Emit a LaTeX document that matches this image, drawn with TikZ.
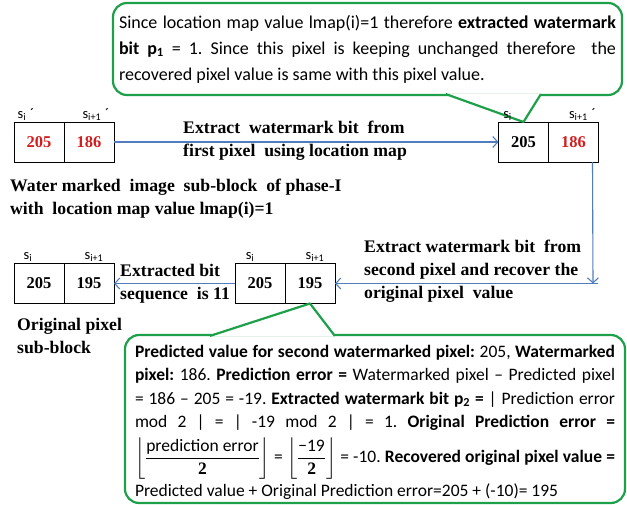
\documentclass[tikz,border=0pt]{standalone}
\usepackage{amsmath}
\usepackage{fontspec}
\setmainfont{Liberation Serif}
\newfontfamily\calibri{Carlito}
\frenchspacing
\usetikzlibrary{arrows.meta,positioning,calc}
\definecolor{bleu}{HTML}{4F7DBD}
\definecolor{vert}{HTML}{1EA04A}
\definecolor{rouge}{HTML}{D11F1F}
\tikzset{
  cellule/.style={draw,line width=0.9pt,minimum width=50pt,minimum height=40pt,
                  outer sep=0pt,inner sep=0pt,font=\fontsize{16.5}{18}\selectfont\bfseries},
  indice/.style={font=\calibri\fontsize{14.5}{16}\selectfont,inner sep=0pt},
  legende/.style={font=\fontsize{17.7}{23}\selectfont\bfseries,align=left,inner sep=0pt},
  fleche/.style={-{Straight Barb[length=5pt,width=11pt]},line width=1.1pt,color=bleu},
  bulle/.style={draw=vert,line width=2.2pt,rounded corners=14pt,align=justify,
                font=\calibri\fontsize{18}{26}\selectfont},
  pointe/.style={draw=vert,line width=2.2pt,line join=round},
}

\begin{document}
\begin{tikzpicture}[x=1pt,y=-1pt]
  \useasboundingbox (0,0) rectangle (627,504);
  \node[cellule,text=rouge] (a1) at (39,142) {205};
  \node[cellule,text=rouge,right=0pt of a1] (a2) {186};
  \node[cellule] (b1) at (523.5,142) {205};
  \node[cellule,text=rouge,right=0pt of b1] (b2) {186};
  \node[cellule] (c1) at (260,283.5) {205};
  \node[cellule,right=0pt of c1] (c2) {195};
  \node[cellule] (d1) at (39,283.5) {205};
  \node[cellule,right=0pt of d1] (d2) {195};

  \node[bulle,text width=497pt,minimum height=92pt,inner xsep=6pt] (note1) at (367.5,49)
    {Since location map value lmap(i)=1 therefore \textbf{extracted watermark}\linebreak
     \textbf{bit p\textsubscript{1}} = 1. Since this pixel is keeping unchanged therefore\ \ the\linebreak
     recovered pixel value is same with this pixel value.};
  \node[bulle,text width=480pt,minimum height=166pt,inner xsep=10pt,
        font=\calibri\fontsize{17.5}{23.5}\selectfont] (note2) at (375,419)
    {\rule{0pt}{19pt}%
     \textbf{Predicted value for second watermarked pixel:} 205, \textbf{Watermarked}\linebreak
     \textbf{pixel:} 186. \textbf{Prediction error =} Watermarked pixel – Predicted pixel\linebreak
     = 186 – 205 = -19. \textbf{Extracted watermark bit p\textsubscript{2} =} | Prediction error\linebreak
     mod 2 | = | -19 mod 2 | = 1. \textbf{Original Prediction error =}\linebreak
     \rule[-20pt]{0pt}{51pt}%
     $\displaystyle\biggl\lfloor\frac{\text{prediction error}}{\text{\rmfamily\bfseries 2}}\biggr\rfloor$
     = $\displaystyle\biggl\lfloor\frac{\text{−19}}{\text{\rmfamily\bfseries 2}}\biggr\rfloor$
     = -10. \textbf{Recovered original pixel value =}\linebreak
     Predicted value + Original Prediction error=205 + (-10)= 195};

  \coordinate (pg1) at ($(note1.south west)+(334,-2)$);
  \coordinate (pd1) at ($(note1.south west)+(429,-2)$);
  \coordinate (pg2) at ($(note2.north west)+(86,2)$);
  \coordinate (pd2) at ($(note2.north west)+(211,2)$);
  \fill[white] (pg1) -- (b1.north) -- (pd1) -- cycle;
  \fill[white] (pg2) -- (c2.south) -- (pd2) -- cycle;
  \draw[pointe] (pg1) -- (b1.north) -- (pd1);
  \draw[pointe] (pg2) -- (c2.south) -- (pd2);

  \node[indice,above=1.5pt of a1,xshift=-13pt] (sa1) {s\textsubscript{i}\hspace{4pt}´};
  \node[indice,above=1.5pt of a2,xshift=7pt] (sa2) {s\textsubscript{i+1}\hspace{4pt}´};
  \node[indice,above=1.5pt of b1,xshift=-16pt] (sb1) {s\textsubscript{i}};
  \node[indice,above=1.5pt of b2,xshift=9pt] (sb2) {s\textsubscript{i+1}\hspace{4pt}´};
  \node[indice,above=1.5pt of c1,xshift=-10pt] (sc1) {s\textsubscript{i}};
  \node[indice,above=1.5pt of c2,xshift=5pt] (sc2) {s\textsubscript{i+1}};
  \node[indice,above=1.5pt of d1,xshift=-11pt] (sd1) {s\textsubscript{i}};
  \node[indice,above=1.5pt of d2,xshift=5pt] (sd2) {s\textsubscript{i+1}};

  \node[legende,anchor=west] (t1) at (183,141)
    {Extract\ \ watermark bit\ \ from\\first pixel\ \ using location map};
  \node[legende,anchor=north west] (t2) at (10,179)
    {Water marked\ \ image\ \ sub-block\ \ of phase-I\\with\ \ location map value lmap(i)=1};
  \node[legende,anchor=west] (t3) at (364,271)
    {Extract watermark bit\ \ from\\second pixel and recover the\\original pixel\ \ value};
  \node[legende,anchor=west] (t4) at (120,284) {Extracted bit\\sequence\ \ is 11};
  \node[legende,anchor=north west] (t5) at (17,318) {Original pixel\\sub-block};

  \foreach \u/\v in {a2.east/b1.west,c1.west/d2.east}
    \draw[fleche] (\u) -- (\v);
  \coordinate (coin) at (593,283.5);
  \draw[fleche] ($(b2.south east)+(-6,0)$) -- (coin);
  \draw[fleche] ($(coin)+(5,0)$) -- (c2.east);
\end{tikzpicture}
\end{document}
